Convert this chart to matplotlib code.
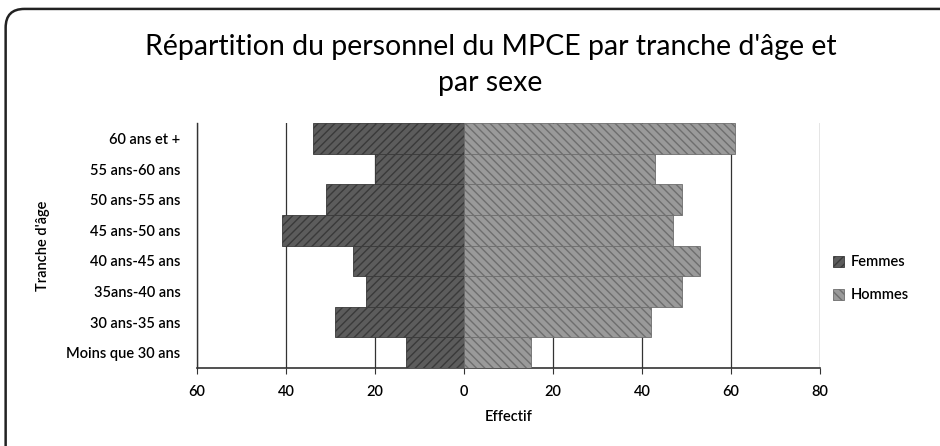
import matplotlib
matplotlib.use("Agg")
import matplotlib.pyplot as plt
from matplotlib.patches import FancyBboxPatch
import numpy as np

plt.rcParams['font.family'] = ['Lato', 'DejaVu Sans']
plt.rcParams['hatch.color'] = "#7a7a7a"

# donnees
tranches = ["Moins que 30 ans", "30 ans-35 ans", "35ans-40 ans", "40 ans-45 ans",
            "45 ans-50 ans", "50 ans-55 ans", "55 ans-60 ans", "60 ans et +"]
femmes = [13, 29, 22, 25, 41, 31, 20, 34]
hommes = [15, 42, 49, 53, 47, 49, 43, 61]
xticks = [-60, -40, -20, 0, 20, 40, 60, 80]
xtick_labels = ["60", "40", "20", "0", "20", "40", "60", "80"]

fig = plt.figure(figsize=(9.4, 4.46), dpi=100)
ax = fig.add_axes([0.2096, 0.175, 0.6625, 0.549])

y = np.arange(len(tranches))
ax.barh(y, [-v for v in femmes], height=1.0, color="#5c5c5c", edgecolor="#3a3a3a",
        linewidth=0.6, hatch="////", label="Femmes", zorder=3)
ax.barh(y, hommes, height=1.0, color="#9a9a9a", edgecolor="#6e6e6e",
        linewidth=0.6, hatch="\\\\\\\\", label="Hommes", zorder=3)

ax.set_xlim(-60, 80)
ax.set_ylim(-0.5, len(tranches) - 0.5)
ax.set_xticks(xticks)
ax.set_xticklabels(xtick_labels, fontsize=10.5, fontweight="semibold")
ax.set_yticks(y)
ax.set_yticklabels(tranches, fontsize=10.5, fontweight="semibold")
ax.tick_params(axis="y", length=0, pad=12)
ax.tick_params(axis="x", length=4, color="#333333", pad=8)
ax.grid(axis="x", color="#333333", linewidth=0.9, zorder=0)
for s in ["top", "right"]:
    ax.spines[s].set_visible(False)
ax.spines["left"].set_color("#333333")
ax.spines["bottom"].set_color("#333333")
ax.spines["left"].set_linewidth(1.0)
ax.spines["bottom"].set_linewidth(1.2)

ax.set_xlabel("Effectif", fontsize=10.5, fontweight="semibold", labelpad=8)
ax.set_ylabel("Tranche d'âge", fontsize=10.5, fontweight="semibold", labelpad=12)

fig.text(0.522, 0.895, "Répartition du personnel du MPCE par tranche d'âge et",
         ha="center", va="center", fontsize=20.5)
fig.text(0.522, 0.815, "par sexe", ha="center", va="center", fontsize=20.5)

fig.legend(loc="center left", bbox_to_anchor=(0.872, 0.375), frameon=False,
           prop={"size": 10.5, "weight": "semibold"}, handlelength=0.8,
           handleheight=0.8, handletextpad=0.4, labelspacing=1.3)

frame = FancyBboxPatch((0.006, -0.1), 1.1, 1.08, boxstyle="round,pad=0,rounding_size=0.02",
                       transform=fig.transFigure, fill=False, edgecolor="#222222",
                       linewidth=1.8, mutation_aspect=2.1)
fig.patches.append(frame)

fig.savefig("out.png", dpi=100)
